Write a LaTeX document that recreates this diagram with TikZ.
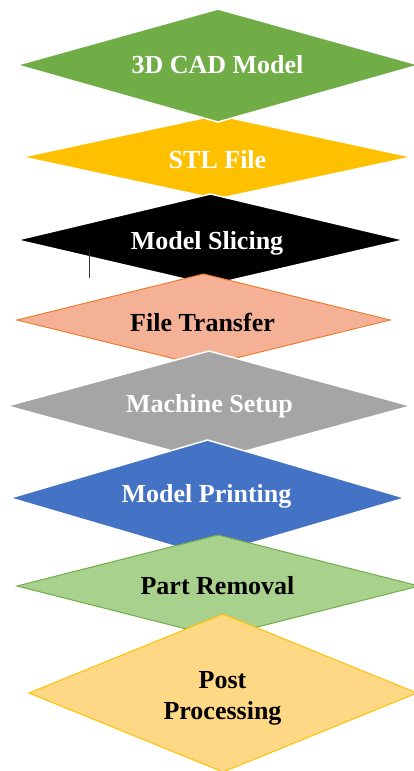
\documentclass[tikz,border=0pt]{standalone}
\usepackage{fontspec}
\setmainfont{Liberation Serif}
\begin{document}
\begin{tikzpicture}[x=1pt,y=-1pt,
  lbl/.style={font=\bfseries\fontsize{26}{31}\selectfont, align=center, inner sep=0pt},
  wl/.style={lbl, text=white},
  bl/.style={lbl, text=black},
  wedge/.style={line width=1.5pt, draw=white, line join=miter}]
\definecolor{cgreen}{HTML}{70AD47}
\definecolor{cyellow}{HTML}{FFC000}
\definecolor{csalmon}{HTML}{F4B196}
\definecolor{corange}{HTML}{ED7D31}
\definecolor{cgrey}{HTML}{A5A5A5}
\definecolor{cblue}{HTML}{4472C4}
\definecolor{clgreen}{HTML}{A9D18E}
\definecolor{clyellow}{HTML}{FFD885}
\useasboundingbox (0,0) rectangle (414,771);
\begin{scope}
\clip (0,0) rectangle (414,771);
% 2 STL File (below 1)
\fill[cyellow, wedge] (217,115) -- (412,157) -- (217,199) -- (22,157) -- cycle;
% 1 3D CAD Model
\fill[cgreen, wedge] (218,9) -- (419,65) -- (218,122) -- (17,65) -- cycle;
% 3 Model Slicing
\fill[black, wedge] (210.5,194) -- (404,240) -- (210.5,285) -- (17,240) -- cycle;
% 4 File Transfer
\filldraw[fill=csalmon, draw=corange, line width=1pt] (203.5,274) -- (390,320) -- (203.5,366) -- (17,320) -- cycle;
% 5 Machine Setup
\fill[cgrey, wedge] (209,351) -- (411,406) -- (209,461) -- (7,406) -- cycle;
% 6 Model Printing
\fill[cblue, wedge] (207.5,440) -- (405,498) -- (207.5,556) -- (10,498) -- cycle;
% 7 Part Removal
\filldraw[fill=clgreen, draw=cgreen, line width=1pt] (218,535) -- (419,586) -- (218,637) -- (17,586) -- cycle;
% 8 Post Processing
\filldraw[fill=clyellow, draw=cyellow, line width=1pt] (223,614) -- (417,693) -- (223,772) -- (29,693) -- cycle;
\end{scope}
\node[wl] (n1) at (217.5,65) {3D CAD Model};
\node[wl] (n2) at (217.5,160) {STL File};
\node[wl] (n3) at (207,243) {Model Slicing};
\node[bl] (n4) at (202.5,322) {File Transfer};
\node[wl] (n5) at (209.5,406) {Machine Setup};
\node[wl] (n6) at (206.5,496) {Model Printing};
\node[bl] (n7) at (217.5,586) {Part Removal};
\node[bl] (n8) at (222.5,698) {Post\\Processing};
\coordinate (c1) at (89,250);
\coordinate (c2) at (89,278);
\draw[line width=0.8pt, black!80] (c1) -- (c2);
\end{tikzpicture}
\end{document}
